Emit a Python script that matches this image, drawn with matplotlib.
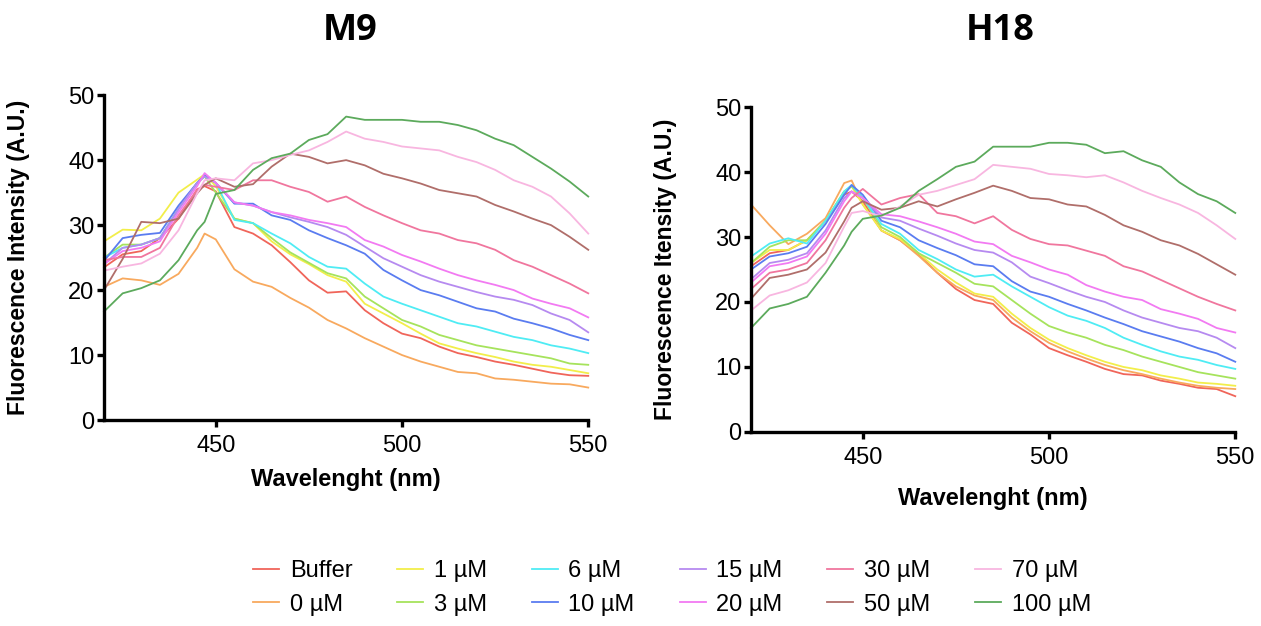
import matplotlib
matplotlib.use("Agg")
import matplotlib.pyplot as plt

plt.rcParams['font.family'] = ['Liberation Sans', 'DejaVu Sans']

# wavelength grid (nm)
wavelength = [420, 425, 430, 435, 440, 445, 447, 450, 455, 460, 465, 470, 475, 480,
              485, 490, 495, 500, 505, 510, 515, 520, 525, 530, 535, 540, 545, 550]

labels = ['Buffer', '0 µM', '1 µM', '3 µM', '6 µM', '10 µM',
          '15 µM', '20 µM', '30 µM', '50 µM', '70 µM', '100 µM']
colors = ['#f0655a', '#f8a95e', '#f2ee4a', '#a6e35c', '#4fecf4', '#5a7cf0',
          '#b68af0', '#f27af2', '#f0769e', '#b06e6a', '#f8b6e0', '#5caa5c']

# M9
m9_buffer = [23.5, 25.5, 26, 28, 31, 35.5, 36, 35.2, 29.7, 28.7, 26.9, 24.3, 21.5, 19.6,
             19.8, 16.9, 14.9, 13.3, 12.6, 11.3, 10.3, 9.7, 9.0, 8.5, 7.9, 7.3, 6.9, 6.8]
m9_0 = [20.5, 21.8, 21.5, 20.8, 22.5, 26.5, 28.7, 27.8, 23.2, 21.3, 20.5, 18.8, 17.3, 15.4,
        14.1, 12.6, 11.3, 10.0, 9.0, 8.2, 7.4, 7.2, 6.4, 6.2, 5.9, 5.6, 5.5, 5.0]
m9_1 = [27.5, 29.3, 29.2, 31, 35, 37, 37.8, 36, 31, 30.3, 27.5, 25.5, 24, 22.3,
        21.3, 17.9, 16.4, 14.9, 13.3, 11.8, 11.0, 10.3, 9.7, 9.0, 8.5, 8.2, 7.7, 7.2]
m9_3 = [25, 27, 27, 28, 32.5, 36.5, 37.5, 35, 31, 30.3, 28, 25.8, 24.2, 22.6,
        21.8, 19, 17.2, 15.4, 14.4, 13.1, 12.3, 11.5, 11.0, 10.5, 10.0, 9.5, 8.7, 8.5]
m9_6 = [25, 26.5, 27, 28, 32.5, 36.5, 37.5, 36.5, 30.8, 30.3, 28.7, 27.2, 25.1, 23.6,
        23.3, 21, 19, 17.9, 16.9, 15.9, 14.9, 14.4, 13.6, 12.8, 12.3, 11.5, 11.0, 10.3]
m9_10 = [24.5, 28, 28.5, 28.8, 33, 36.5, 37.7, 36.5, 33.3, 33.3, 31.5, 30.8, 29.2, 28,
         26.9, 25.6, 23.1, 21.5, 20, 19.2, 18.2, 17.2, 16.7, 15.6, 14.9, 14.1, 13.1, 12.3]
m9_15 = [24, 26.5, 27, 28, 32.5, 36.5, 37.5, 36.5, 33.5, 33, 32, 31.2, 30.5, 29.7,
         28.5, 26.7, 24.9, 23.6, 22.3, 21.3, 20.5, 19.7, 19, 18.5, 17.7, 16.4, 15.4, 13.5]
m9_20 = [24, 26, 26.5, 27.5, 32, 36, 38, 36.5, 33.5, 33, 32, 31.5, 30.8, 30.3,
         29.7, 27.7, 26.7, 25.4, 24.4, 23.3, 22.3, 21.5, 20.8, 20, 18.7, 17.9, 17.2, 15.8]
m9_30 = [24.6, 25.1, 25.1, 26.5, 31.5, 35.4, 36.2, 35.9, 35.4, 36.9, 36.9, 35.9, 35.1, 33.6,
         34.4, 32.8, 31.5, 30.3, 29.2, 28.7, 27.7, 27.2, 26.2, 24.6, 23.6, 22.3, 21, 19.5]
m9_50 = [20, 24.8, 30.5, 30.3, 31, 34.9, 36.2, 37.2, 35.9, 36.3, 39, 41, 40.5, 39.5,
         40, 39.2, 37.9, 37.2, 36.4, 35.4, 34.9, 34.4, 33.1, 32.1, 31, 30, 28.2, 26.2]
m9_70 = [23, 23.6, 24.1, 25.6, 29.2, 34.9, 36.9, 37.2, 36.9, 39.5, 40, 40.8, 41.5, 42.8,
         44.4, 43.3, 42.8, 42.1, 41.8, 41.5, 40.5, 39.7, 38.5, 36.9, 35.9, 34.4, 31.8, 28.7]
m9_100 = [16.7, 19.5, 20.3, 21.5, 24.6, 29.2, 30.5, 34.8, 35.4, 38.5, 40.3, 41, 43.1, 44,
          46.7, 46.2, 46.2, 46.2, 45.9, 45.9, 45.4, 44.6, 43.3, 42.3, 40.5, 38.7, 36.7, 34.4]

# H18
h18_buffer = [25.5, 27.5, 28, 29.5, 32.5, 36.5, 37, 35.5, 31, 29.5, 27.3, 24.5, 22, 20.3,
              19.7, 16.8, 15, 12.9, 11.8, 10.8, 9.7, 8.9, 8.7, 7.9, 7.4, 6.8, 6.6, 5.5]
h18_0 = [35, 31.8, 28.9, 30.5, 32.9, 38.3, 38.7, 35, 31, 29.5, 27.1, 24.5, 22.4, 21,
         20.3, 17.6, 15.5, 13.7, 12.4, 11.3, 10.3, 9.5, 8.9, 8.2, 7.6, 7.1, 6.8, 6.6]
h18_1 = [26, 28, 28, 29.5, 32.5, 37, 37.8, 35, 31, 29.7, 27.5, 25, 23, 21.3,
         20.8, 18.2, 16, 14.2, 12.9, 11.8, 10.8, 10, 9.5, 8.7, 8.2, 7.6, 7.4, 7.1]
h18_3 = [26, 28.5, 29.5, 29.5, 32.5, 37, 37.8, 36, 31.5, 30, 27.5, 26, 24.5, 22.8,
         22.4, 20.3, 18.2, 16.3, 15.3, 14.5, 13.4, 12.6, 11.6, 10.8, 10, 9.2, 8.7, 8.2]
h18_6 = [27, 29, 29.8, 29, 32.5, 37, 38, 36, 32, 30.5, 28, 26.6, 25, 23.9,
         24.2, 22.4, 20.8, 19.2, 17.9, 17.1, 16, 14.5, 13.4, 12.4, 11.6, 11.1, 10.3, 9.7]
h18_10 = [25, 27, 27.5, 28.5, 32, 36.5, 38, 36.5, 32.5, 31.5, 29.5, 28.3, 27.2, 25.8,
          25.5, 23.2, 21.6, 20.8, 19.7, 18.7, 17.6, 16.6, 15.5, 14.7, 13.9, 12.9, 12.1, 10.8]
h18_15 = [23.5, 26, 26.5, 27.5, 31, 36, 37, 36, 33, 32.5, 31.3, 30.2, 29, 28,
          27.6, 26.1, 23.9, 22.9, 21.8, 20.8, 20, 18.7, 17.6, 16.8, 16, 15.5, 14.5, 12.9]
h18_20 = [23, 25.5, 26, 27, 30.5, 35.5, 37, 36, 33.5, 33.2, 32.4, 31.5, 30.5, 29.3,
          28.9, 27.1, 26.1, 25, 24.2, 22.6, 21.6, 20.8, 20.3, 18.9, 18.2, 17.4, 16, 15.3]
h18_30 = [22, 24.5, 25, 26, 29.5, 34.5, 36, 37.4, 35, 36, 36.6, 33.7, 33.2, 32.1,
          33.2, 31.1, 29.7, 28.9, 28.7, 27.9, 27.1, 25.5, 24.7, 23.4, 22.1, 20.8, 19.7, 18.7]
h18_50 = [20.5, 23.7, 24.2, 25, 27.6, 32.4, 34.5, 35.5, 34.2, 34.5, 35.5, 34.7, 35.8, 36.8,
          37.9, 37.1, 36, 35.8, 35, 34.7, 33.4, 31.8, 30.8, 29.5, 28.7, 27.4, 25.8, 24.2]
h18_70 = [18.7, 21, 21.8, 23, 26, 31.6, 33.7, 34, 33.2, 34.7, 36.5, 37.1, 38, 38.9,
          41.1, 40.8, 40.5, 39.7, 39.5, 39.2, 39.5, 38.4, 37.1, 36, 35, 33.7, 31.8, 29.7]
h18_100 = [16, 19, 19.7, 20.8, 24.5, 28.7, 30.8, 32.8, 33.3, 34.5, 37.1, 38.9, 40.8, 41.6,
           43.9, 43.9, 43.9, 44.5, 44.5, 44.2, 42.9, 43.2, 41.8, 40.8, 38.4, 36.6, 35.5, 33.7]

m9_series = [m9_buffer, m9_0, m9_1, m9_3, m9_6, m9_10, m9_15, m9_20, m9_30, m9_50, m9_70, m9_100]
h18_series = [h18_buffer, h18_0, h18_1, h18_3, h18_6, h18_10, h18_15, h18_20, h18_30, h18_50,
              h18_70, h18_100]

fig = plt.figure(figsize=(12.61, 6.26), dpi=100)
ax1 = fig.add_axes([0.0825, 0.329, 0.384, 0.519])
ax2 = fig.add_axes([0.5956, 0.310, 0.384, 0.519])


def style_axis(ax, ylabel, xlabel_y):
    ax.set_xlim(420, 550)
    ax.set_ylim(0, 50)
    ax.set_xticks([450, 500, 550])
    ax.set_yticks([0, 10, 20, 30, 40, 50])
    for side in ['top', 'right']:
        ax.spines[side].set_visible(False)
    for side in ['left', 'bottom']:
        ax.spines[side].set_linewidth(2.4)
    ax.tick_params(axis='both', direction='out', width=2.4, length=5, labelsize=17)
    ax.tick_params(axis='x', pad=6)
    ax.tick_params(axis='y', pad=2)
    ax.set_ylabel(ylabel, fontsize=16.5, fontweight='bold')
    ax.set_xlabel('Wavelenght (nm)', fontsize=17, fontweight='bold')
    ax.yaxis.set_label_coords(-0.153, 0.5)
    ax.xaxis.set_label_coords(0.5, xlabel_y)


lines = []
for vals, col, lab in zip(m9_series, colors, labels):
    ln, = ax1.plot(wavelength, vals, color=col, lw=1.3, label=lab, clip_on=False)
    lines.append(ln)
for vals, col in zip(h18_series, colors):
    ax2.plot(wavelength, vals, color=col, lw=1.3, clip_on=False)

style_axis(ax1, 'Fluorescence Intensity (A.U.)', -0.148)
style_axis(ax2, 'Fluorescence Itensity (A.U.)', -0.169)

fig.text(0.2776, 0.951, 'M9', ha='center', va='center', fontsize=26,
         fontweight='bold', family='Open Sans')
fig.text(0.793, 0.951, 'H18', ha='center', va='center', fontsize=26,
         fontweight='bold', family='Open Sans')

fig.legend(handles=lines, loc='center', bbox_to_anchor=(0.533, 0.061), ncol=6,
           frameon=False, fontsize=17, handlelength=1.1, handletextpad=0.45,
           columnspacing=1.9, labelspacing=0.5)

fig.savefig('out.png', dpi=100)
